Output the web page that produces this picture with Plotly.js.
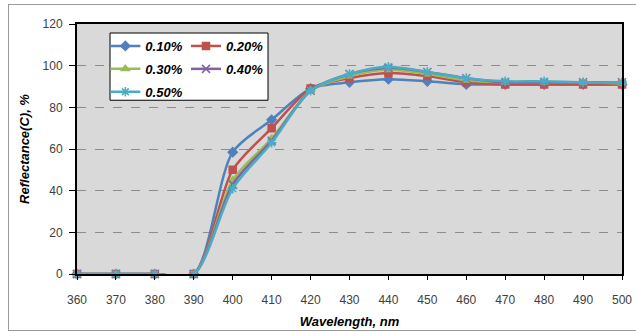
<!DOCTYPE html>
<html>
<head>
<meta charset="utf-8">
<script src="https://cdn.plot.ly/plotly-3.0.1.min.js"></script>
<style>
html,body{margin:0;padding:0;background:#fff;overflow:hidden;}
#wrap{position:relative;width:636px;height:332px;overflow:hidden;}
#frame{position:absolute;left:8px;top:4px;width:640px;height:327px;border:1px solid #9a9a9a;box-sizing:border-box;pointer-events:none;}
#chart{position:absolute;left:0;top:0;width:636px;height:332px;}
</style>
</head>
<body>
<div id="wrap"><div id="chart"></div><div id="frame"></div></div>
<script>
const wavelength = [360,370,380,390,400,410,420,430,440,450,460,470,480,490,500];
const seriesNames = ["0.10%","0.20%","0.30%","0.40%","0.50%"];
const s010 = [0,0,0,0,58.5,74,89,92,93.5,92.5,91,91,91,91,91];
const s020 = [0,0,0,0,50,70,89,94,96.5,95,92,91,91,91,91];
const s030 = [0,0,0,0,45,65,88,95,98,96,93,92,92,92,91.5];
const s040 = [0,0,0,0,43,64,88,96,99,97,94,92,92,92,92];
const s050 = [0,0,0,0,41,63,88,96,99.5,97,94,92.5,92.5,92,92];
const seriesValues = [s010,s020,s030,s040,s050];
const colors = ["#4F81BD","#C0504D","#9BBB59","#8064A2","#4BACC6"];
const symbols = ["diamond","square","triangle-up","x-thin-open","asterisk-open"];
const legendOf = ["legend","legend2","legend","legend2","legend"];
const xTicks = [360,370,380,390,400,410,420,430,440,450,460,470,480,490,500];
const yTicks = [0,20,40,60,80,100,120];

const traces = seriesValues.map((v,i)=>({
  x: wavelength, y: v, name: seriesNames[i], type:'scatter', mode:'lines+markers',
  legend: legendOf[i], legendgroup: 'g'+i,
  line:{color:colors[i], width:2.5, shape:'spline', smoothing:0.8},
  marker:{symbol:symbols[i], size:(i<3?7:8), color:colors[i], line:{color:colors[i], width:1.5}},
  cliponaxis:false
}));

const legFont = {family:'Liberation Sans, Arial', size:13, color:'#000', style:'italic', weight:'bold'};
const legendBase = {xref:'paper', yref:'paper', xanchor:'left', yanchor:'top', bgcolor:'rgba(0,0,0,0)', borderwidth:0,
  orientation:'v', tracegroupgap:3, itemwidth:30, font:legFont};

const layout = {
  width:636, height:332,
  margin:{l:77, r:14, t:24, b:58},
  paper_bgcolor:'#ffffff', plot_bgcolor:'#D9D9D9',
  showlegend:true,
  legend: Object.assign({}, legendBase, {x:0.052, y:0.972}),
  legend2: Object.assign({}, legendBase, {x:0.200, y:0.972}),
  shapes:[{type:'rect', xref:'paper', yref:'paper', x0:0.0606, x1:0.3505, y0:0.695, y1:0.964,
    fillcolor:'#ffffff', line:{color:'#000', width:1}, layer:'above'}],
  xaxis:{range:[360,500], tickvals:xTicks, ticktext:xTicks.map(String), showgrid:false, zeroline:false,
    showline:true, linecolor:'#000', linewidth:2, mirror:true, ticks:'outside', ticklen:4, tickcolor:'#000', tickwidth:1,
    ticklabelstandoff:10,
    tickfont:{family:'Liberation Sans, Arial', size:12, color:'#404040'},
    title:{text:'Wavelength, nm', standoff:10, font:{family:'Liberation Sans, Arial', size:13, color:'#000', style:'italic', weight:'bold'}}},
  yaxis:{range:[0,120], tickvals:yTicks, showgrid:true, gridcolor:'#8c8c8c', griddash:'dash', gridwidth:1, zeroline:false,
    showline:true, linecolor:'#000', linewidth:2, mirror:true, ticks:'outside', ticklen:6, tickcolor:'#000', tickwidth:1,
    ticklabelstandoff:4,
    tickfont:{family:'Liberation Sans, Arial', size:12, color:'#404040'},
    title:{text:'Reflectance(C), %', standoff:10, font:{family:'Liberation Sans, Arial', size:13, color:'#000', style:'italic', weight:'bold'}}}
};
Plotly.newPlot('chart', traces, layout, {displayModeBar:false, staticPlot:true});
</script>
</body>
</html>
